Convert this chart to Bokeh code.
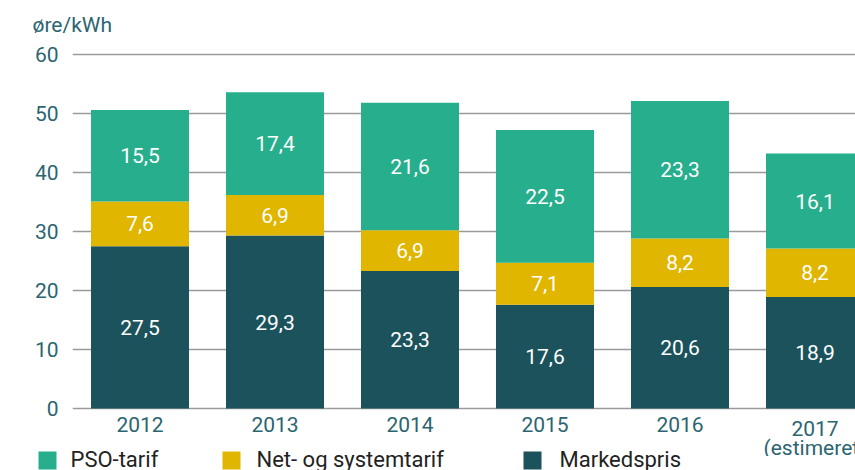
from bokeh.plotting import figure
from bokeh.layouts import column
from bokeh.models import ColumnDataSource, Range1d, FixedTicker
from bokeh.core.properties import value
from bokeh.embed import file_html
from bokeh.resources import INLINE

years = ["2012", "2013", "2014", "2015", "2016", "2017\n(estimeret)"]
markedspris = [27.5, 29.3, 23.3, 17.6, 20.6, 18.9]
net_system = [7.6, 6.9, 6.9, 7.1, 8.2, 8.2]
pso = [15.5, 17.4, 21.6, 22.5, 23.3, 16.1]
series_names = ["PSO-tarif", "Net- og systemtarif", "Markedspris"]
legend_colors = ["#27ae8c", "#e0b600", "#1b525c"]
colors = ["#1b525c", "#e0b600", "#27ae8c"]
y_ticks = [0, 10, 20, 30, 40, 50, 60]

FONT = "Roboto"
TEAL = "#2b6571"

xs = list(range(len(years)))
src = ColumnDataSource(dict(x=xs, m=markedspris, n=net_system, p=pso))

p = figure(width=855, height=456, output_backend="svg", toolbar_location=None,
           x_axis_location=None,
           x_range=Range1d(-0.5, 5.3), y_range=Range1d(-8.14, 62.71),
           min_border_left=72, min_border_right=0, min_border_top=38, min_border_bottom=0)
p.frame_align = False
p.outline_line_color = None
p.background_fill_color = "white"

p.title.text = "øre/kWh"
p.title.align = "left"
p.title.offset = -40
p.title.text_font = FONT
p.title.text_font_style = "normal"
p.title.text_font_size = "21px"
p.title.text_color = TEAL
p.title.standoff = 4

r = p.vbar_stack(["m", "n", "p"], x="x", width=0.726, color=colors, line_color=None, source=src)

# segment labels
lx, ly, lt = [], [], []
for i in xs:
    base = 0.0
    for vals in (markedspris, net_system, pso):
        v = vals[i]
        lx.append(i)
        ly.append(base + v / 2)
        lt.append(f"{v:.1f}".replace(".", ","))
        base += v
p.text(x="x", y="y", text="t", source=ColumnDataSource(dict(x=lx, y=ly, t=lt)),
       text_color="white", text_font=value(FONT), text_font_size="21px",
       text_align="center", text_baseline="middle")

# category labels under the bars
p.text(x=xs, y=[-1.44] * len(xs), text=years,
       text_color=TEAL, text_font=value(FONT), text_font_size="21px",
       text_align="center", text_baseline="top", text_line_height=0.8)

# y axis
p.yaxis.ticker = FixedTicker(ticks=y_ticks)
p.yaxis.axis_line_color = None
p.yaxis.major_tick_line_color = None
p.yaxis.minor_tick_line_color = None
p.yaxis.major_label_standoff = 8
p.yaxis.major_label_text_font = FONT
p.yaxis.major_label_text_font_size = "21px"
p.yaxis.major_label_text_color = TEAL

p.xgrid.grid_line_color = None
p.ygrid.ticker = FixedTicker(ticks=y_ticks)
p.ygrid.grid_line_color = "#9a9a9a"
p.ygrid.grid_line_width = 1.5

# legend strip (1 data unit = 1 px)
lg_fig = figure(width=855, height=21, output_backend="svg", toolbar_location=None,
                x_axis_location=None, y_axis_location=None,
                x_range=Range1d(0, 855), y_range=Range1d(0, 21),
                min_border_left=0, min_border_right=0, min_border_top=0, min_border_bottom=0,
                margin=(-7, 0, 0, 0))
lg_fig.frame_align = False
lg_fig.grid.grid_line_color = None
lg_fig.outline_line_color = None
lg_fig.background_fill_alpha = 0
lg_fig.border_fill_alpha = 0

key_x = [47, 231, 532]
text_x = [70, 256, 559]
lg_fig.rect(x=key_x, y=[10] * 3, width=18, height=18, color=legend_colors, line_color=None)
lg_fig.text(x=text_x, y=[11] * 3, text=series_names, text_color="#222222",
            text_font=value(FONT), text_font_size="22px", text_baseline="middle")

layout = column(p, lg_fig, spacing=0)
open("out.html", "w").write(file_html(layout, INLINE))
